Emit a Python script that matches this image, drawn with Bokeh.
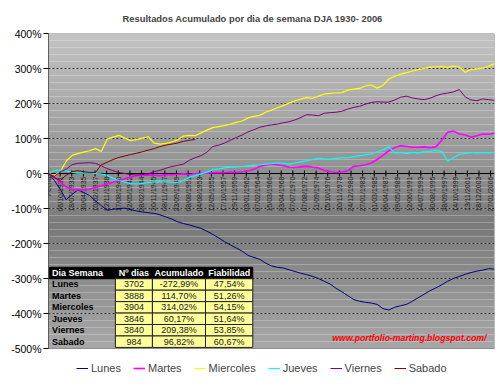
import numpy as np
from math import pi
from bokeh.plotting import figure
from bokeh.models import (Range1d, FixedTicker, PrintfTickFormatter, Span, Legend,
                          LegendItem, Label)
from bokeh.core.properties import value
from bokeh.embed import file_html
from bokeh.resources import INLINE

# ---------------- data ----------------
dias_semana = ["Lunes", "Martes", "Miercoles", "Jueves", "Viernes", "Sabado"]
n_dias = [3702, 3888, 3904, 3846, 3840, 984]
acumulado = ["-272,99%", "114,70%", "314,02%", "60,17%", "209,38%", "96,82%"]
fiabilidad = ["47,54%", "51,26%", "54,15%", "51,64%", "53,85%", "60,67%"]
table_header = ["Dia Semana", "Nº dias", "Acumulado", "Fiabilidad"]

fechas = ["Fecha", "06/10/1931", "18/07/1933", "30/04/1935", "10/02/1937", "22/11/1938",
          "17/08/1940", "22/05/1942", "28/02/1944", "20/11/1945", "08/11/1947",
          "23/09/1949", "08/08/1951", "04/08/1953", "12/05/1955", "17/10/1957",
          "29/11/1959", "03/01/1962", "07/02/1964", "15/03/1966", "23/04/1968",
          "07/07/1970", "07/08/1972", "11/09/1974", "15/10/1976", "20/11/1978",
          "24/12/1980", "27/01/1983", "01/03/1985", "06/04/1987", "09/05/1989",
          "12/06/1991", "14/07/1993", "30/08/1995", "28/09/1997", "14/10/1999",
          "13/11/2001", "18/12/2003", "27/01/2006"]
label_step = 526  # trading days between category labels
y_ticks = list(range(-500, 401, 100))

lunes = [0, -20, -45, -75, -60, -47, -54, -63, -78, -92,
         -105, -102, -100, -99, -103, -107, -110, -112, -114, -118,
         -124, -130, -138, -143, -147, -152, -157, -165, -174, -184,
         -195, -204, -213, -222, -234, -240, -245, -256, -264, -268,
         -270, -275, -280, -285, -289, -294, -300, -308, -316, -328,
         -338, -349, -360, -365, -368, -370, -374, -386, -390, -382,
         -378, -374, -365, -355, -345, -335, -327, -318, -308, -300,
         -294, -288, -283, -279, -276, -272, -273]
martes = [0, -10, -25, -38, -45, -46, -47, -45, -40, -35,
          -30, -25, -20, -15, -10, -6, -5, -4, -5, -6,
          -3, -4, -2, -1, -3, 0, 0, 1, 2, 3,
          2, 4, 3, 5, 7, 12, 20, 24, 27, 25,
          22, 18, 17, 19, 21, 18, 16, 9, 5, 3,
          4, 8, 20, 22, 25, 30, 40, 52, 65, 74,
          79, 77, 75, 75, 76, 74, 76, 95, 118, 121,
          113, 110, 104, 108, 113, 112, 115]
miercoles = [0, -5, 5, 35, 52, 57, 61, 65, 71, 63,
             98, 104, 109, 101, 94, 97, 101, 105, 87, 84,
             86, 90, 96, 107, 109, 108, 116, 124, 131, 134,
             137, 141, 146, 150, 159, 163, 166, 175, 181, 188,
             194, 201, 208, 213, 217, 215, 221, 227, 229, 230,
             231, 238, 241, 243, 250, 253, 244, 252, 270, 278,
             284, 288, 293, 297, 300, 304, 305, 306, 303, 307,
             305, 289, 297, 299, 301, 306, 314]
jueves = [0, 8, 10, 8, 3, 1, 1, 1, 0, -2,
          -5, -14, -20, -25, -29, -30, -28, -26, -24, -24,
          -24, -25, -26, -20, -11, -6, -1, 4, 11, 13,
          16, 18, 19, 20, 22, 24, 25, 27, 28, 30,
          29, 27, 30, 33, 36, 40, 44, 42, 41, 43,
          45, 45, 48, 51, 53, 56, 62, 68, 76, 58,
          60, 57, 60, 58, 62, 63, 66, 63, 35, 45,
          55, 57, 60, 58, 60, 59, 60]
viernes = [0, -8, 5, 12, 25, 29, 30, 31, 29, 22,
           14, 8, 3, 0, -3, -4, -3, -1, 5, 9,
           15, 20, 23, 27, 38, 45, 51, 61, 77, 81,
           87, 95, 103, 110, 119, 125, 132, 136, 139, 141,
           145, 148, 153, 160, 168, 167, 165, 172, 174, 175,
           178, 184, 189, 192, 198, 203, 205, 204, 204, 210,
           218, 221, 216, 213, 211, 215, 222, 227, 230, 233,
           240, 219, 210, 208, 213, 211, 209]
sabado = [0, -12, -20, -5, 5, 8, 5, 3, 3, 25,
          32, 40, 46, 50, 54, 58, 62, 67, 71, 77,
          81, 84, 87, 92, 95, 97]

series = [lunes, martes, miercoles, jueves, viernes, sabado]
colors = ["#000080", "#ff00ff", "#ffff00", "#00ffff", "#800080", "#800000"]
widths = [1, 1.6, 1.2, 1.2, 1, 1]

total_days = sum(n_dias)
x_pts = np.linspace(0, total_days, len(lunes))
y_lo, y_hi = y_ticks[0], y_ticks[-1]

FONT = "Liberation Sans"

# ---------------- figure ----------------
# the frame extends below -500% so that the legend row fits inside it
p = figure(width=500, height=386, output_backend="svg", toolbar_location=None,
           x_range=Range1d(0, total_days), y_range=Range1d(-605.7, y_hi),
           min_border_left=48, min_border_right=6, min_border_top=33, min_border_bottom=1,
           background_fill_color="white", border_fill_color="white",
           outline_line_color=None)

p.title.text = "Resultados Acumulado por dia de semana DJA 1930- 2006"
p.title.text_font = FONT
p.title.text_font_size = "9.4px"
p.title.text_font_style = "bold"
p.title.align = "left"
p.title.offset = 74
p.title.standoff = 20

# gradient background of the plot area (style)
stops_y = [-500, -150, 100, 400]
stops_c = [168, 122, 158, 196]
band_edges = np.arange(y_lo, y_hi + 1, 10)
band_mid = (band_edges[:-1] + band_edges[1:]) / 2
band_gray = np.interp(band_mid, stops_y, stops_c).astype(int)
band_cols = ["#%02x%02x%02x" % (g, g, g) for g in band_gray]
p.quad(left=0, right=total_days, bottom=band_edges[:-1], top=band_edges[1:],
       fill_color=band_cols, line_color=None, level="image")
# plot-area border and vertical axis line
p.quad(left=0, right=total_days, bottom=y_lo, top=y_hi, fill_color=None,
       line_color="#8c8c8c", line_width=1)
p.segment(x0=0, y0=y_lo, x1=0, y1=y_hi, line_color="black", line_width=1)

# axes
p.xaxis.visible = False
p.xgrid.visible = False
p.ygrid.grid_line_color = "#303030"
p.ygrid.grid_line_dash = "2 2"
p.ygrid.grid_line_width = 1
p.yaxis.ticker = FixedTicker(ticks=y_ticks)
p.yaxis.formatter = PrintfTickFormatter(format="%d%%")
p.yaxis.major_label_text_font = FONT
p.yaxis.major_label_text_font_size = "10.5px"
p.yaxis.major_label_text_color = "black"
p.yaxis.axis_line_color = None
p.yaxis.major_tick_line_color = "black"
p.yaxis.major_tick_out = 5
p.yaxis.major_tick_in = 0
p.yaxis.minor_tick_line_color = None
p.yaxis.major_label_standoff = 2

p.add_layout(Span(location=0, dimension="width", line_color="black", line_width=1,
                  level="underlay"))

# category labels along the 0 line
tick_x = [i * label_step for i in range(len(fechas))]
p.scatter(x=tick_x, y=[0] * len(tick_x), marker="dash", angle=pi / 2, size=6,
          line_color="black", line_width=1)
p.text(x=tick_x, y=[0] * len(tick_x), text=fechas, angle=pi / 2,
       text_align="right", text_baseline="middle", y_offset=3,
       text_font=value(FONT), text_font_size="7px", text_color="#1a1a1a")

# lines
renderers = []
for name, vals, col, w in zip(dias_semana, series, colors, widths):
    r = p.line(x_pts[:len(vals)], vals, line_color=col, line_width=w)
    renderers.append((name, r))

# ---------------- table ----------------
col_frac = [0.002, 0.150, 0.233, 0.352, 0.458]
col_x = [f * total_days for f in col_frac]
row_top = -268.0
row_h = 32.7
# header
p.quad(left=col_x[0], right=col_x[-1], top=row_top, bottom=row_top - row_h,
       fill_color="black", line_color="black")
# yellow cells
cl, cr, ct, cb = [], [], [], []
for r in range(len(dias_semana)):
    for c in range(1, 4):
        cl.append(col_x[c]); cr.append(col_x[c + 1])
        ct.append(row_top - (r + 1) * row_h); cb.append(row_top - (r + 2) * row_h)
p.quad(left=cl, right=cr, top=ct, bottom=cb, fill_color="#ffff99",
       line_color="#202020", line_width=1)

hx = [col_x[0] + 0.006 * total_days] + [(col_x[c] + col_x[c + 1]) / 2 for c in range(1, 4)]
hy = [row_top - row_h / 2] * 4
p.text(x=hx[:1], y=hy[:1], text=table_header[:1], text_align="left", text_baseline="middle",
       text_font=value(FONT), text_font_size="9px", text_font_style="bold", text_color="white")
p.text(x=hx[1:], y=hy[1:], text=table_header[1:], text_align="center", text_baseline="middle",
       text_font=value(FONT), text_font_size="9px", text_font_style="bold", text_color="white")

ry = [row_top - (r + 1.5) * row_h for r in range(len(dias_semana))]
p.text(x=[hx[0]] * len(ry), y=ry, text=dias_semana, text_align="left", text_baseline="middle",
       text_font=value(FONT), text_font_size="9px", text_font_style="bold", text_color="black")
for c, colvals in zip(range(1, 4), [[str(v) for v in n_dias], acumulado, fiabilidad]):
    p.text(x=[hx[c]] * len(ry), y=ry, text=colvals, text_align="center", text_baseline="middle",
           text_font=value(FONT), text_font_size="9px", text_color="#202020")

# url
p.add_layout(Label(x=0.982 * total_days, y=-471, text="www.portfolio-marting.blogspot.com/",
                   text_align="right", text_baseline="middle", text_color="#ff0000",
                   text_font=FONT, text_font_style="bold italic", text_font_size="8.7px"))

# legend row under the plot area
legend = Legend(items=[LegendItem(label=n, renderers=[r]) for n, r in renderers],
                orientation="horizontal", location=(25, 8),
                label_text_font=FONT, label_text_font_size="11px",
                glyph_width=12, glyph_height=12, label_height=12, label_standoff=3,
                spacing=12, padding=3, margin=0, border_line_alpha=0,
                background_fill_alpha=0)
p.add_layout(legend)

open("out.html", "w").write(file_html(p, INLINE))
